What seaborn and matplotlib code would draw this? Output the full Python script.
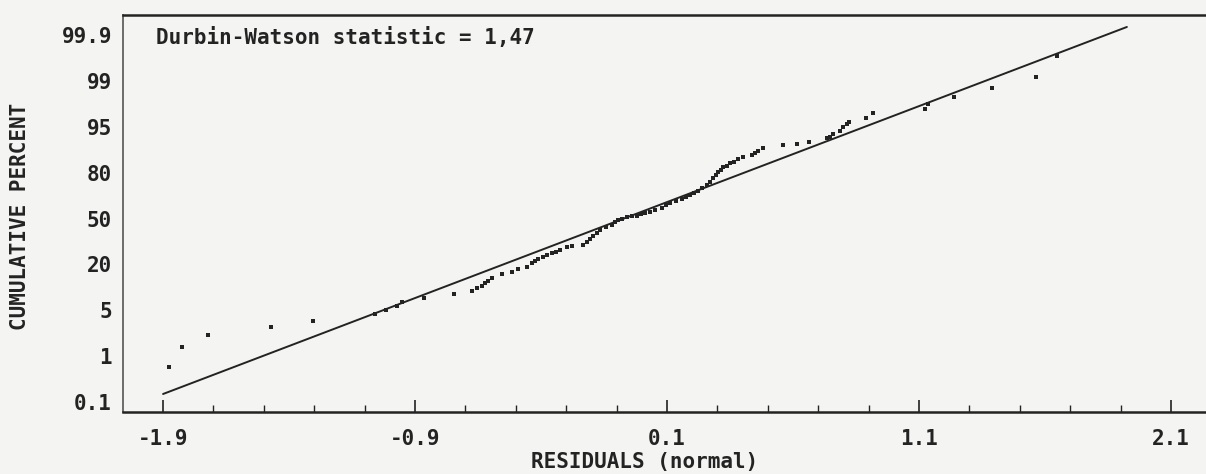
import math
import numpy as np
import matplotlib
matplotlib.use("Agg")
import matplotlib.pyplot as plt
from matplotlib.ticker import FixedLocator, AutoMinorLocator
import seaborn as sns

# Residuals (normal) sorted ascending, and the normal score of each rank
residuals = [
    -1.875, -1.823, -1.721, -1.470, -1.305, -1.059, -1.015, -0.973, -0.953, -0.864,
    -0.745, -0.674, -0.654, -0.635, -0.622, -0.609, -0.596, -0.556, -0.515, -0.490,
    -0.456, -0.437, -0.424, -0.411, -0.391, -0.376, -0.358, -0.340, -0.325, -0.298,
    -0.277, -0.232, -0.219, -0.206, -0.192, -0.178, -0.166, -0.142, -0.119, -0.106,
    -0.093, -0.079, -0.060, -0.039, -0.020, -0.003, 0.013, 0.033, 0.052, 0.079,
    0.096, 0.112, 0.136, 0.158, 0.175, 0.191, 0.207, 0.224, 0.239, 0.258,
    0.271, 0.284, 0.294, 0.304, 0.314, 0.323, 0.338, 0.350, 0.366, 0.383,
    0.403, 0.436, 0.449, 0.462, 0.482, 0.559, 0.615, 0.665, 0.734, 0.747,
    0.760, 0.786, 0.800, 0.813, 0.823, 0.890, 0.916, 1.122, 1.137, 1.239,
    1.388, 1.564, 1.646,
]
normal_scores = [
    -2.512, -2.191, -2.013, -1.898, -1.800, -1.701, -1.641, -1.571, -1.492, -1.436,
    -1.361, -1.308, -1.264, -1.212, -1.168, -1.124, -1.080, -1.016, -0.970, -0.914,
    -0.883, -0.825, -0.780, -0.743, -0.701, -0.669, -0.642, -0.614, -0.587, -0.528,
    -0.513, -0.477, -0.425, -0.376, -0.321, -0.266, -0.211, -0.165, -0.119, -0.073,
    -0.027, 0.000, 0.022, 0.037, 0.055, 0.083, 0.106, 0.125, 0.147, 0.187,
    0.239, 0.279, 0.321, 0.358, 0.395, 0.431, 0.468, 0.496, 0.551, 0.615,
    0.661, 0.738, 0.798, 0.858, 0.896, 0.935, 0.966, 1.005, 1.036, 1.075,
    1.110, 1.150, 1.194, 1.225, 1.278, 1.325, 1.346, 1.383, 1.442, 1.470,
    1.518, 1.575, 1.635, 1.689, 1.720, 1.770, 1.845, 1.908, 1.990, 2.082,
    2.216, 2.391, 2.741,
]

# Fitted normal reference line (end points)
fit_residuals = [-1.9, 1.925]
fit_scores = [-2.957, 3.224]

x_ticks = [-1.9, -0.9, 0.1, 1.1, 2.1]
x_tick_labels = ["-1.9", "-0.9", "0.1", "1.1", "2.1"]
percent_ticks = [0.1, 1, 5, 20, 50, 80, 95, 99, 99.9]
percent_labels = ["0.1", "1", "5", "20", "50", "80", "95", "99", "99.9"]
dw_statistic = "1,47"

INK = "#232323"
PAPER = "#f4f4f2"


def normal_ppf(p):
    lo, hi = -10.0, 10.0
    for _ in range(100):
        mid = 0.5 * (lo + hi)
        if 0.5 * (1.0 + math.erf(mid / math.sqrt(2.0))) < p:
            lo = mid
        else:
            hi = mid
    return 0.5 * (lo + hi)


# Probability axis: percent labels sit on evenly spaced rows
z_ticks = np.array([normal_ppf(p / 100.0) for p in percent_ticks])
rows = np.arange(len(z_ticks), dtype=float)
z_anchor = np.concatenate([[z_ticks[0] - 10 * (z_ticks[1] - z_ticks[0])], z_ticks,
                           [z_ticks[-1] + 10 * (z_ticks[-1] - z_ticks[-2])]])
row_anchor = np.concatenate([[-10.0], rows, [rows[-1] + 10.0]])


def to_row(z):
    return np.interp(np.asarray(z, dtype=float), z_anchor, row_anchor)


def from_row(r):
    return np.interp(np.asarray(r, dtype=float), row_anchor, z_anchor)


sns.set_theme(style="white")
plt.rcParams["font.family"] = ["DejaVu Sans Mono", "DejaVu Sans"]
plt.rcParams["text.color"] = INK

fig = plt.figure(figsize=(12.06, 4.74), dpi=100, facecolor=PAPER)
ax = fig.add_axes([123 / 1206, 1 - 412 / 474, 1083 / 1206, 397 / 474])
ax.set_facecolor(PAPER)
ax.set_yscale("function", functions=(to_row, from_row))

sns.lineplot(x=fit_residuals, y=fit_scores, ax=ax, color=INK, linewidth=1.4,
             sort=False, estimator=None)
sns.scatterplot(x=residuals, y=normal_scores, ax=ax, marker="s", s=11,
                color=INK, linewidth=0)

ax.set_xlim(-2.059, 2.239)
ax.set_ylim(from_row(-0.218), from_row(8.436))

ax.xaxis.set_major_locator(FixedLocator(x_ticks))
ax.set_xticklabels(x_tick_labels)
ax.xaxis.set_minor_locator(AutoMinorLocator(5))
ax.tick_params(axis="x", which="major", direction="in", length=9, width=1.2,
               color=INK, pad=12, labelsize=15, labelcolor=INK, bottom=True)
ax.tick_params(axis="x", which="minor", direction="in", length=5, width=1.0,
               color=INK, bottom=True)
ax.set_yticks(z_ticks)
ax.set_yticklabels(percent_labels)
ax.yaxis.set_minor_locator(FixedLocator([]))
ax.tick_params(axis="y", which="both", length=0, pad=8, labelsize=15,
               labelcolor=INK, left=True)
for lab in ax.get_xticklabels() + ax.get_yticklabels():
    lab.set_fontweight("bold")

for side in ("top", "bottom", "left"):
    ax.spines[side].set_visible(True)
    ax.spines[side].set_color(INK)
ax.spines["top"].set_linewidth(1.8)
ax.spines["bottom"].set_linewidth(1.8)
ax.spines["left"].set_linewidth(1.2)
ax.spines["left"].set_color("#555555")
ax.spines["right"].set_visible(False)

ax.set_xlabel("RESIDUALS (normal)", fontsize=15, fontweight="bold", color=INK)
ax.xaxis.set_label_coords(0.482, (412 - 462) / 397)
ax.xaxis.label.set_va("center")
ax.set_ylabel("CUMULATIVE PERCENT", fontsize=15, fontweight="bold", color=INK)
ax.yaxis.set_label_coords((20 - 123) / 1083, (412 - 216) / 397)
ax.yaxis.label.set_va("center")

ax.text((156 - 123) / 1083, (412 - 44) / 397,
        f"Durbin-Watson statistic = {dw_statistic}", transform=ax.transAxes,
        ha="left", va="baseline", fontsize=15, fontweight="bold", color=INK)

fig.savefig("out.png", dpi=100, facecolor=PAPER)
